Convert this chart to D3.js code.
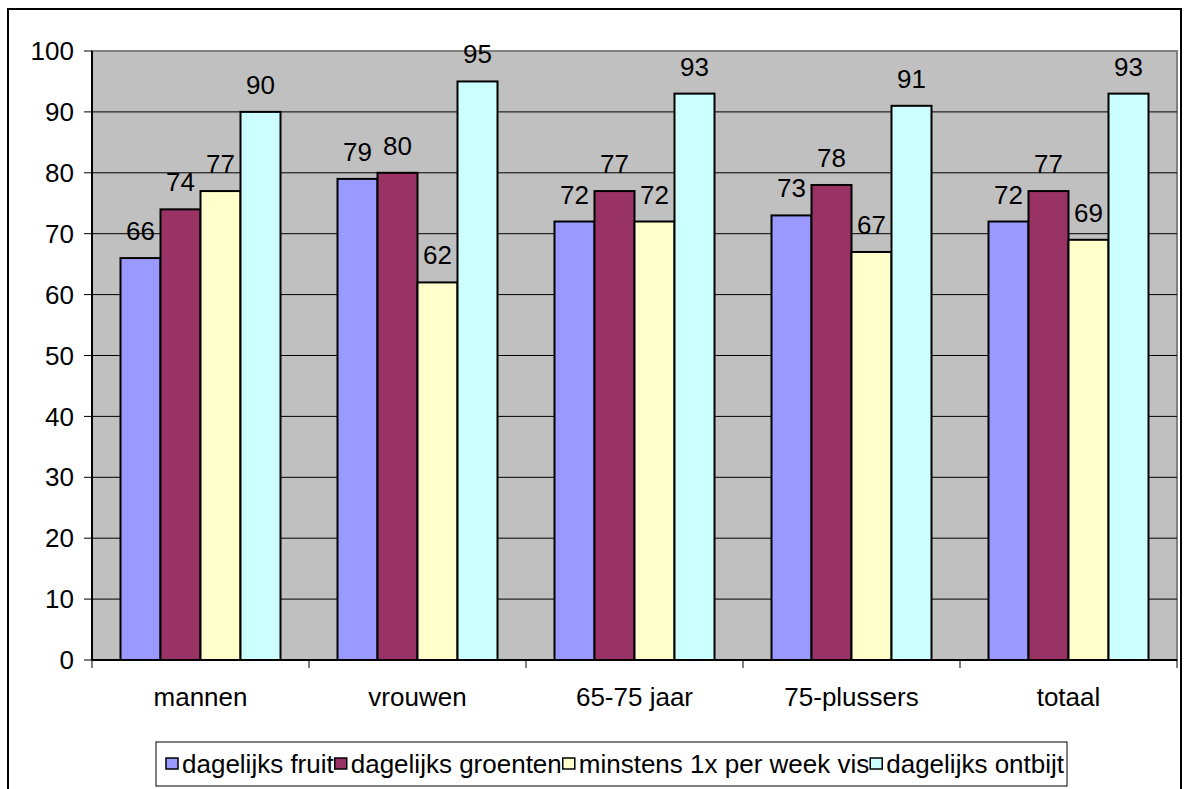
<!DOCTYPE html>
<html>
<head>
<meta charset="UTF-8">
<title>Voeding</title>
<script src="https://d3js.org/d3.v7.min.js"></script>
<style>
  body { margin: 0; background: #fff; }
  text { font-family: "Liberation Sans", Arial, sans-serif; fill: #000; }
</style>
</head>
<body>
<svg id="chart" width="1190" height="789"></svg>
<script>
const categories = ["mannen", "vrouwen", "65-75 jaar", "75-plussers", "totaal"];
const seriesNames = ["dagelijks fruit", "dagelijks groenten", "minstens 1x per week vis", "dagelijks ontbijt"];
const fruit = [66, 79, 72, 73, 72];
const groenten = [74, 80, 77, 78, 77];
const vis = [77, 62, 72, 67, 69];
const ontbijt = [90, 95, 93, 91, 93];
const yTicks = [0, 10, 20, 30, 40, 50, 60, 70, 80, 90, 100];
const colors = ["#9999ff", "#993366", "#ffffcc", "#ccffff"];

const series = [fruit, groenten, vis, ontbijt];
const fs = 26;

const svg = d3.select("#chart");
const plot = { left: 92, top: 51, right: 1177, bottom: 660 };

// outer border
svg.append("rect")
  .attr("x", 8).attr("y", 9).attr("width", 1173).attr("height", 800)
  .attr("fill", "#fff").attr("stroke", "#000").attr("stroke-width", 2);

const x = d3.scaleBand().domain(categories).range([plot.left, plot.right]);
const y = d3.scaleLinear().domain([0, 100]).range([plot.bottom, plot.top]);

// plot background
svg.append("rect")
  .attr("x", plot.left).attr("y", plot.top)
  .attr("width", plot.right - plot.left).attr("height", plot.bottom - plot.top)
  .attr("fill", "#c0c0c0").attr("stroke", "#808080").attr("stroke-width", 2);

// gridlines
svg.append("g").selectAll("line")
  .data(yTicks.filter(d => d > 0 && d < 100))
  .join("line")
  .attr("x1", plot.left).attr("x2", plot.right)
  .attr("y1", d => y(d)).attr("y2", d => y(d))
  .attr("stroke", "#000").attr("stroke-width", 1);

// bars
const groupW = 160;
const barW = groupW / series.length;
const groups = svg.append("g").selectAll("g")
  .data(categories)
  .join("g")
  .attr("transform", c => `translate(${x(c) + (x.bandwidth() - groupW) / 2},0)`);

groups.each(function(c, ci) {
  const g = d3.select(this);
  series.forEach((s, si) => {
    g.append("rect")
      .attr("x", si * barW).attr("y", y(s[ci]))
      .attr("width", barW).attr("height", y(0) - y(s[ci]))
      .attr("fill", colors[si]).attr("stroke", "#000").attr("stroke-width", 2);
    g.append("text")
      .attr("x", si * barW + barW / 2).attr("y", y(s[ci]) - 18)
      .attr("text-anchor", "middle").attr("font-size", fs)
      .text(s[ci]);
  });
});

// y axis
const yAxis = svg.append("g");
yAxis.append("line")
  .attr("x1", plot.left).attr("x2", plot.left)
  .attr("y1", plot.top).attr("y2", plot.bottom)
  .attr("stroke", "#000").attr("stroke-width", 2);
yAxis.selectAll("line.tick").data(yTicks).join("line")
  .attr("class", "tick")
  .attr("x1", plot.left - 8).attr("x2", plot.left)
  .attr("y1", d => y(d)).attr("y2", d => y(d))
  .attr("stroke", "#000").attr("stroke-width", 1);
yAxis.selectAll("text").data(yTicks).join("text")
  .attr("x", 74).attr("y", d => y(d))
  .attr("dy", "0.35em").attr("text-anchor", "end").attr("font-size", fs)
  .text(d => d);

// x axis
const xAxis = svg.append("g");
xAxis.append("line")
  .attr("x1", plot.left).attr("x2", plot.right)
  .attr("y1", plot.bottom).attr("y2", plot.bottom)
  .attr("stroke", "#000").attr("stroke-width", 2);
const xTickPos = categories.map(c => x(c)).concat([plot.right]);
xAxis.selectAll("line.tick").data(xTickPos).join("line")
  .attr("class", "tick")
  .attr("x1", d => d).attr("x2", d => d)
  .attr("y1", plot.bottom).attr("y2", plot.bottom + 8)
  .attr("stroke", "#000").attr("stroke-width", 1);
xAxis.selectAll("text").data(categories).join("text")
  .attr("x", d => x(d) + x.bandwidth() / 2).attr("y", 706)
  .attr("text-anchor", "middle").attr("font-size", fs)
  .text(d => d);

// legend
const legend = svg.append("g");
const legendBox = legend.append("rect")
  .attr("x", 156).attr("y", 742).attr("height", 44)
  .attr("fill", "#fff").attr("stroke", "#000").attr("stroke-width", 1);
let lx = 166;
seriesNames.forEach((name, i) => {
  legend.append("rect")
    .attr("x", lx).attr("y", 758).attr("width", 12).attr("height", 11)
    .attr("fill", colors[i]).attr("stroke", "#000").attr("stroke-width", 1.5);
  const t = legend.append("text")
    .attr("x", lx + 16).attr("y", 773).attr("font-size", fs)
    .text(name);
  lx += 16 + t.node().getComputedTextLength() + 1;
});
legendBox.attr("width", lx - 156 + 2);
</script>
</body>
</html>
